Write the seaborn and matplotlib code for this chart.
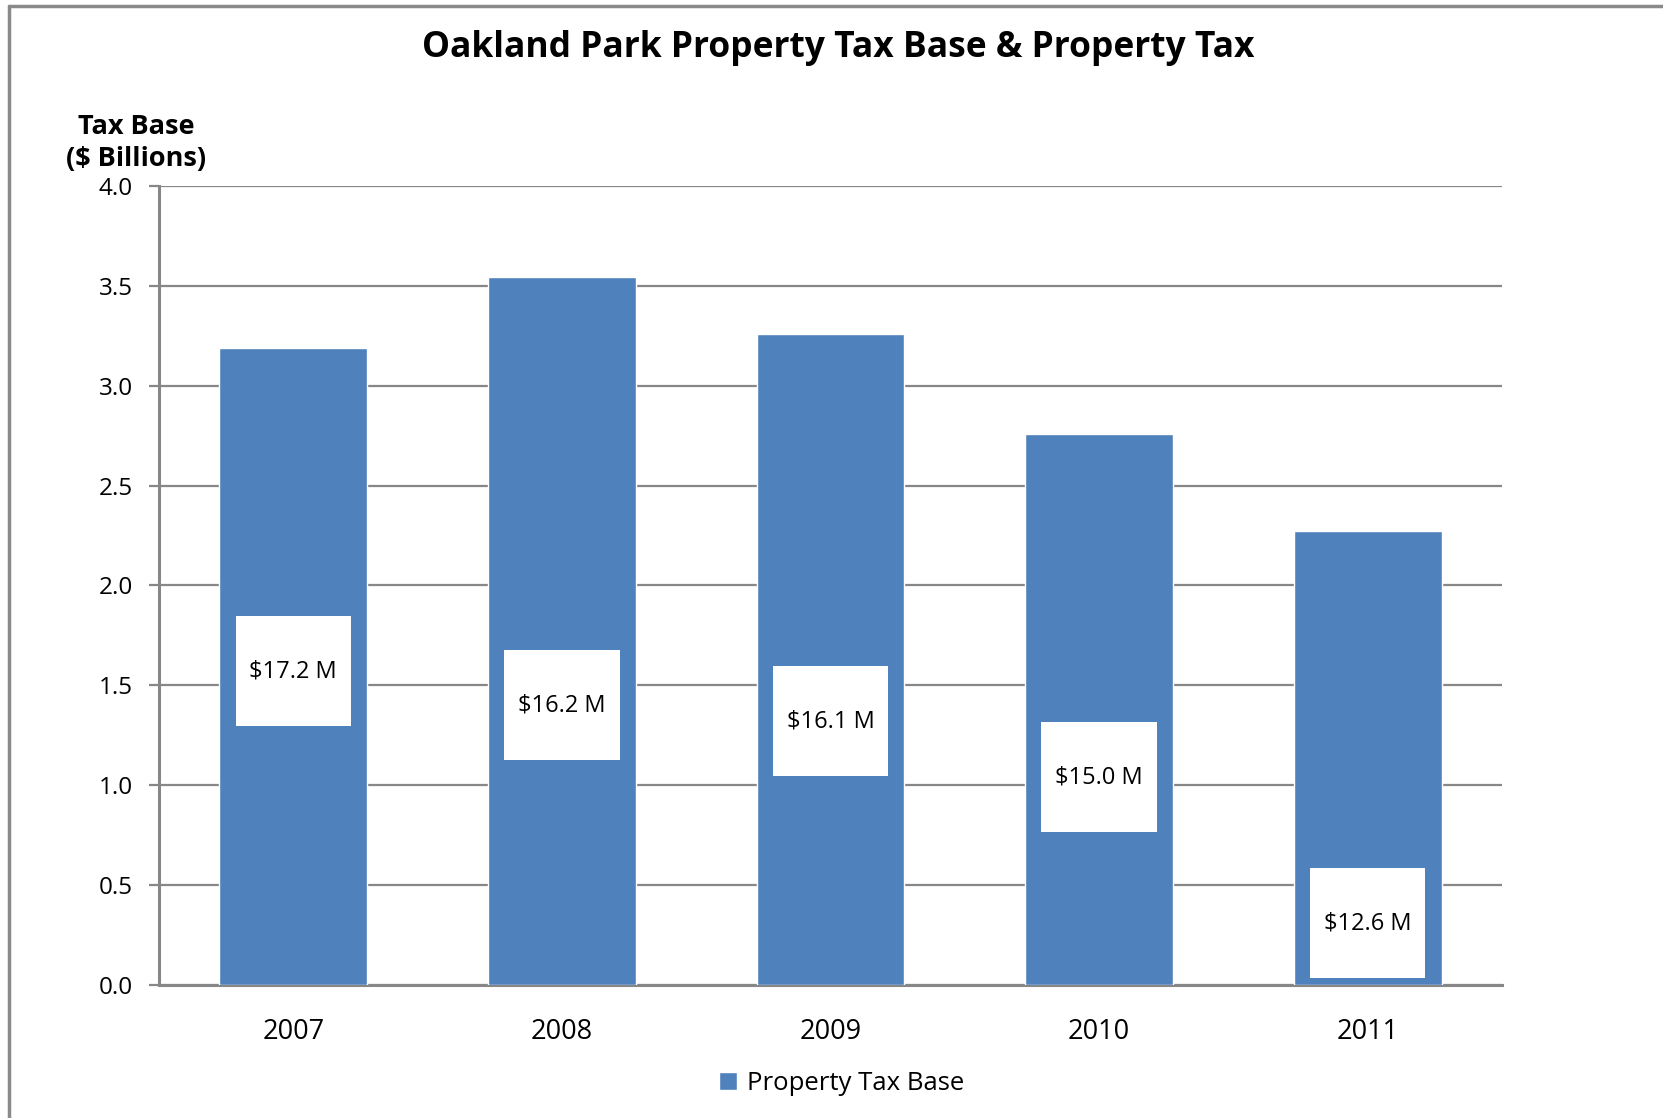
import numpy as np
import pandas as pd
import matplotlib
matplotlib.use("Agg")
import matplotlib.pyplot as plt
from matplotlib.patches import Rectangle
from matplotlib.lines import Line2D
import seaborn as sns

# data
years = ["2007", "2008", "2009", "2010", "2011"]
tax_base = [3.19, 3.545, 3.26, 2.76, 2.275]         # $ billions
tax_labels = ["$17.2 M", "$16.2 M", "$16.1 M", "$15.0 M", "$12.6 M"]
label_pos = [1.57, 1.40, 1.32, 1.04, 0.31]          # where the tax boxes sit on the base axis
yticks = [0.0, 0.5, 1.0, 1.5, 2.0, 2.5, 3.0, 3.5, 4.0]

df = pd.DataFrame({"year": years, "base": tax_base})

sns.set_theme(style="white")
plt.rcParams["font.family"] = ["Open Sans", "DejaVu Sans"]
plt.rcParams["text.color"] = "black"

blue = "#4F81BD"
grey = "#878787"

fig = plt.figure(figsize=(16.63, 11.18), dpi=100)
ax = fig.add_axes([0.0956, 0.1190, 0.9032 - 0.0956, 0.8336 - 0.1190])

sns.barplot(data=df, x="year", y="base", color=blue, width=0.55,
            saturation=1, label="Property Tax Base", ax=ax, zorder=3)

# white boxes with the property tax amounts
box_w, box_h = 0.43, 0.55
for i, (lab, yp) in enumerate(zip(tax_labels, label_pos)):
    ax.add_patch(Rectangle((i - box_w / 2, yp - box_h / 2), box_w, box_h,
                           facecolor="white", edgecolor="none", zorder=4))
    ax.text(i, yp, lab, ha="center", va="center", fontsize=17,
            color="black", zorder=5)

ax.set_ylim(0, 4.0)
ax.set_xlim(-0.5, len(years) - 0.5)
ax.set_yticks(yticks)
ax.set_yticklabels([f"{v:.1f}" for v in yticks], fontsize=17.5)
ax.yaxis.grid(True, color=grey, linewidth=1.6, zorder=0)
ax.set_axisbelow(True)

# category labels at centres, tick marks at category boundaries
ax.set_xticks(range(len(years)))
ax.set_xticklabels(years, fontsize=19.5)
ax.set_xticks(np.arange(-0.5, len(years), 1.0), minor=True)
ax.tick_params(axis="x", which="major", length=0, pad=24, labelcolor="black")
ax.tick_params(axis="x", which="minor", length=7, width=1.6, color=grey, direction="out")
ax.tick_params(axis="y", length=7, width=1.6, color=grey, direction="out", left=True,
               pad=12, labelcolor="black")

for side in ["top", "right"]:
    ax.spines[side].set_visible(False)
for side in ["left", "bottom"]:
    ax.spines[side].set_color(grey)
    ax.spines[side].set_linewidth(2.2)
ax.set_xlabel("")
ax.set_ylabel("")

fig.text(0.082, 0.872, "Tax Base\n($ Billions)", ha="center", va="center",
         fontsize=19.5, fontweight="bold", linespacing=1.3)
fig.text(0.504, 0.957, "Oakland Park Property Tax Base & Property Tax",
         ha="center", va="center", fontsize=25.5, fontweight="bold")

ax.legend(loc="center", bbox_to_anchor=(0.506, 0.031), bbox_transform=fig.transFigure,
          frameon=False, fontsize=18.5, handlelength=0.7, handleheight=0.7,
          handletextpad=0.4)

# outer frame (top and left edges visible)
fig.add_artist(Line2D([0.0055, 1.0], [0.9946, 0.9946], color="#8a8a8a", linewidth=2.5))
fig.add_artist(Line2D([0.0055, 0.0055], [0.0, 0.9946], color="#8a8a8a", linewidth=2.5))

fig.savefig("out.png", dpi=100)
